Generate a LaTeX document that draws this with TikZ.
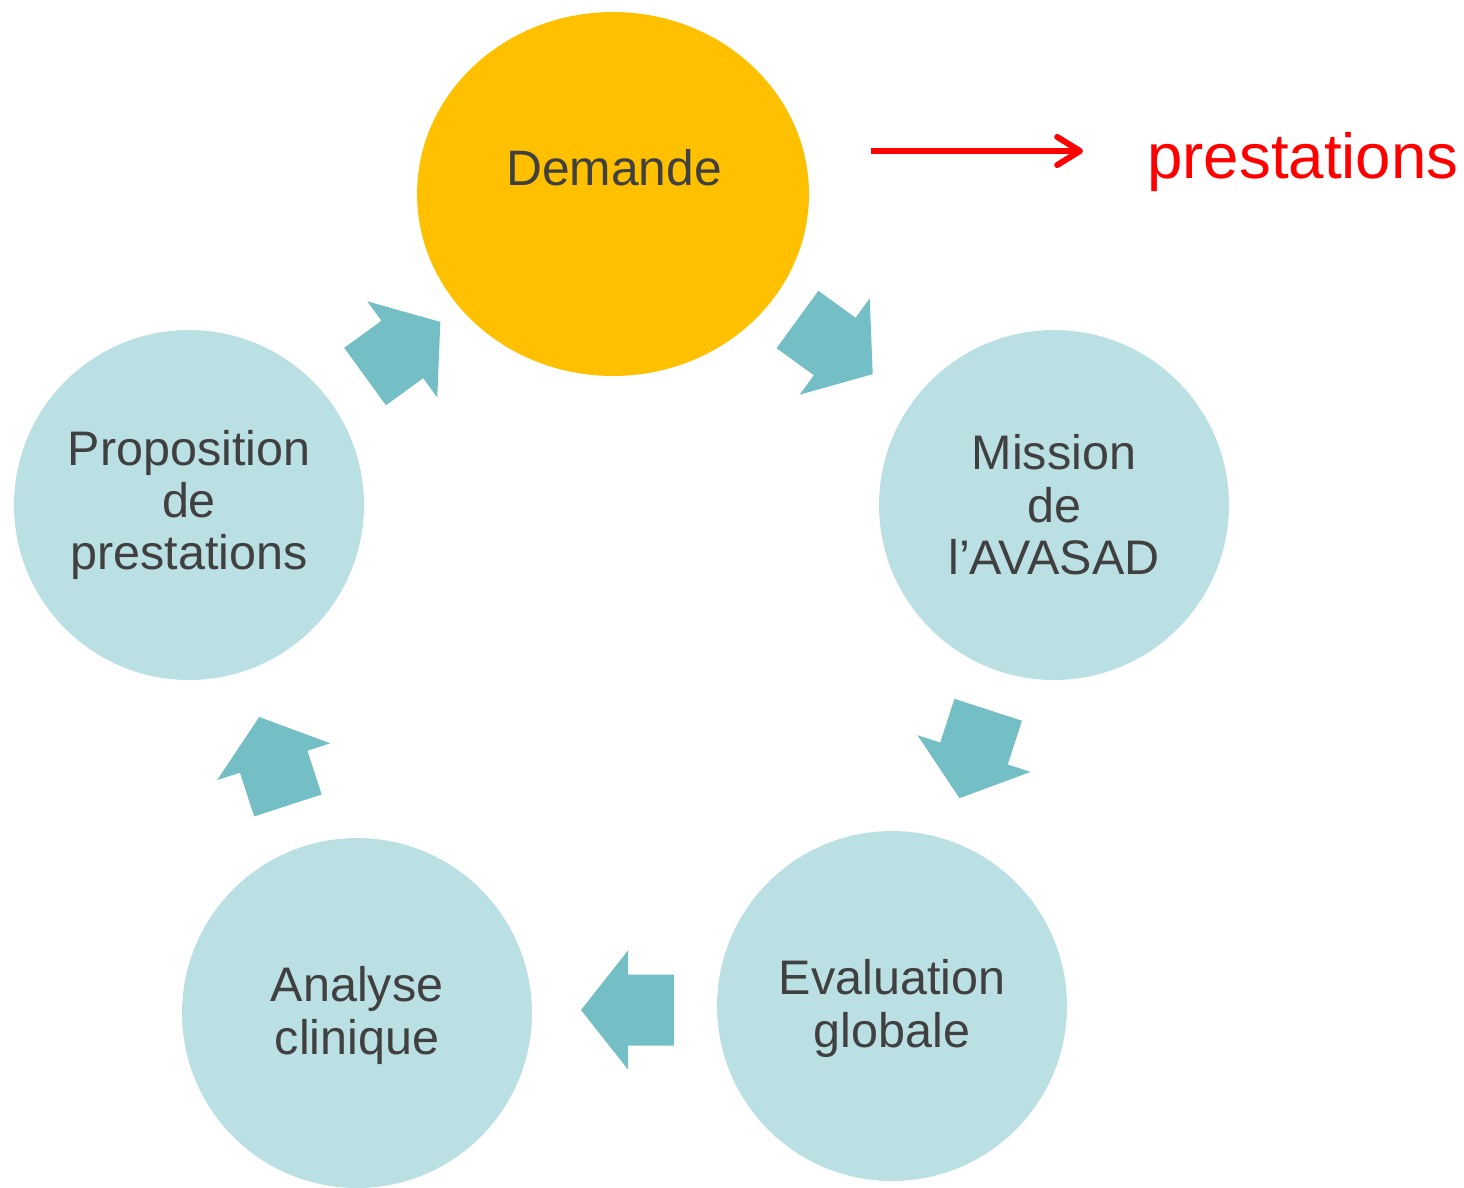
\documentclass[tikz,border=0pt]{standalone}
\usepackage{fontspec}
\setmainfont{Liberation Sans}
\usetikzlibrary{shapes.geometric,arrows.meta}
\definecolor{demandeorange}{HTML}{FFC000}
\definecolor{stepblue}{HTML}{BBE0E3}
\definecolor{arrowteal}{HTML}{74BFC5}
\definecolor{textgrey}{HTML}{404040}
\tikzset{
  stepcircle/.style={circle,fill=stepblue,minimum size=7cm,inner sep=0pt,
    text=textgrey,align=center,font=\fontsize{27.6}{29.8}\selectfont},
  steptext/.style={text=textgrey,align=center,inner sep=0pt,
    font=\fontsize{28.3}{29.8}\selectfont},
  arrowfill/.style={fill=arrowteal}
}
% one block arrow of the cycle: head base centre, direction
\newcommand{\cyclearrow}[2]{%
  \fill[arrowfill,shift={#1},rotate=#2] (-46,-35.5) -- (0,-35.5) -- (0,-59.5)
    -- (47,0) -- (0,59.5) -- (0,35.5) -- (-46,35.5) -- cycle;}
\begin{document}
\begin{tikzpicture}[x=0.02cm,y=-0.02cm]
  \useasboundingbox (0,0) rectangle (1464,1187);
  % the five steps
  \node[ellipse,fill=demandeorange,minimum width=7.84cm,minimum height=7.28cm,
    inner sep=0pt] (demande) at (613,194) {};
  \node[steptext] (demandetxt) at (614,168) {Demande};
  \node[stepcircle] (mission) at (1054,505) {Mission\\de\\l’AVASAD};
  \node[stepcircle] (evaluation) at (892,1006) {\\[-7pt]Evaluation\\globale};
  \node[stepcircle] (analyse) at (357,1013) {\\[-7pt]Analyse\\clinique};
  \node[stepcircle] (proposition) at (189,505) {Proposition\\de\\prestations};
  % arrows between the steps
  \cyclearrow{(834.7,346.5)}{-36}
  \cyclearrow{(974,753.5)}{-108}
  \cyclearrow{(628,1010)}{180}
  \cyclearrow{(273.7,761.7)}{108}
  \cyclearrow{(402.3,349.5)}{36}
  % red note
  \coordinate (redstart) at (871,151);
  \coordinate (redend) at (1083,151);
  \draw[red,line width=3.4pt,-{Straight Barb[length=13pt,width=16pt,round]}]
    (redstart) -- (redend);
  \node[red,anchor=base west,inner sep=0pt,font=\fontsize{36.2}{40}\selectfont]
    (prestations) at (1147,178) {prestations};
\end{tikzpicture}
\end{document}
